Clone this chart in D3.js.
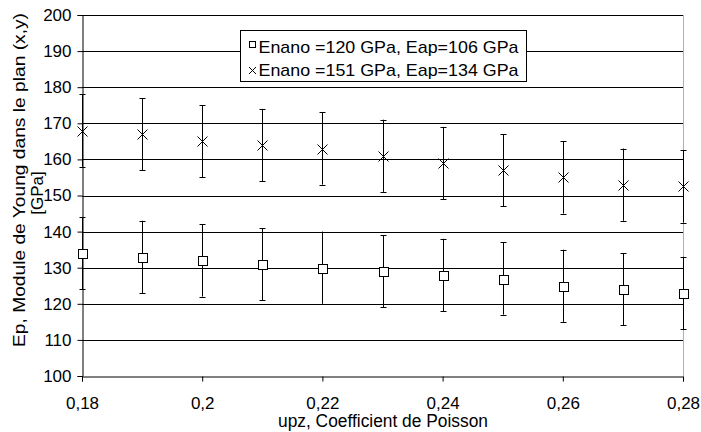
<!DOCTYPE html>
<html>
<head>
<meta charset="utf-8">
<script src="https://cdn.jsdelivr.net/npm/d3@7"></script>
<style>
  body { margin: 0; background: #fff; }
  text { font-family: "Liberation Sans", Arial, sans-serif; fill: #000; }
</style>
</head>
<body>
<svg class="chart" width="701" height="432"></svg>
<script>
const poisson = [0.18, 0.19, 0.20, 0.21, 0.22, 0.23, 0.24, 0.25, 0.26, 0.27, 0.28];
const series120 = [134, 133, 132, 131, 130, 129, 128, 127, 125, 124, 123];
const series151 = [168, 167, 165, 164, 163, 161, 159, 157, 155, 153, 152.5];
const errorBar = 10;
const xTicks = [0.18, 0.20, 0.22, 0.24, 0.26, 0.28];
const yTicks = [100, 110, 120, 130, 140, 150, 160, 170, 180, 190, 200];
const legendLabels = ["Enano =120 GPa, Eap=106 GPa", "Enano =151 GPa, Eap=134 GPa"];

const margin = {top: 15, right: 18, bottom: 56, left: 82};
const width = 701 - margin.left - margin.right;
const height = 432 - margin.top - margin.bottom;

const svg = d3.select(".chart");
const chart = svg.append("g")
    .attr("transform", `translate(${margin.left}, ${margin.top})`);

const x = d3.scaleLinear().domain([0.18, 0.28]).range([0, width]);
const y = d3.scaleLinear().domain([100, 200]).range([height, 0]);

const fmt = (d) => String(+d.toFixed(2)).replace(".", ",");

// grid
chart.selectAll(".grid")
    .data(yTicks.slice(1))
    .enter().append("line")
    .attr("class", "grid")
    .attr("x1", 0).attr("x2", width)
    .attr("y1", (d) => Math.round(y(d)) + 0.5)
    .attr("y2", (d) => Math.round(y(d)) + 0.5)
    .style("stroke", "#000")
    .style("stroke-width", 1);

// right border
chart.append("line")
    .attr("x1", width + 0.5).attr("x2", width + 0.5)
    .attr("y1", 0).attr("y2", height)
    .style("stroke", "#b0b0b0");

// axes
const xAxis = chart.append("g")
    .attr("transform", `translate(0,${height + 0.5})`)
    .call(d3.axisBottom(x).tickValues(xTicks).tickFormat(fmt).tickSize(5).tickPadding(15));
const yAxis = chart.append("g")
    .attr("transform", "translate(0.5,0)")
    .call(d3.axisLeft(y).tickValues(yTicks).tickSize(5).tickPadding(6));
[xAxis, yAxis].forEach((a) => {
    a.select(".domain").style("stroke", "#000");
    a.selectAll(".tick line").style("stroke", "#000");
    a.selectAll("text").style("font-size", "17px").style("font-family", "Liberation Sans, Arial, sans-serif");
});

// axis titles
svg.append("text")
    .attr("x", 383)
    .attr("y", 427)
    .attr("text-anchor", "middle")
    .attr("textLength", 210)
    .attr("lengthAdjust", "spacingAndGlyphs")
    .style("font-size", "18px")
    .text("upz, Coefficient de Poisson");

svg.append("text")
    .attr("transform", "translate(25,180) rotate(-90)")
    .attr("text-anchor", "middle")
    .attr("textLength", 334)
    .attr("lengthAdjust", "spacingAndGlyphs")
    .style("font-size", "17px")
    .text("Ep, Module de Young dans le plan (x,y)");
svg.append("text")
    .attr("transform", "translate(43,193) rotate(-90)")
    .attr("text-anchor", "middle")
    .style("font-size", "17px")
    .text("[GPa]");

// error bars
function drawErrors(values) {
    const g = chart.append("g");
    values.forEach((v, i) => {
        const cx = Math.round(x(poisson[i])) + 0.5;
        const y1 = y(v + errorBar), y2 = y(v - errorBar);
        g.append("line").attr("x1", cx).attr("x2", cx).attr("y1", y1).attr("y2", y2)
            .style("stroke", "#000");
        [y1, y2].forEach((yy) => {
            g.append("line").attr("x1", cx - 3).attr("x2", cx + 3)
                .attr("y1", Math.round(yy) + 0.5).attr("y2", Math.round(yy) + 0.5)
                .style("stroke", "#000");
        });
    });
}
drawErrors(series120);
drawErrors(series151);

// markers
chart.selectAll(".sq")
    .data(series120)
    .enter().append("rect")
    .attr("class", "sq")
    .attr("x", (d, i) => Math.round(x(poisson[i])) - 4 + 0.5)
    .attr("y", (d) => Math.round(y(d)) - 4 + 0.5)
    .attr("width", 9).attr("height", 9)
    .style("fill", "#fff")
    .style("stroke", "#000");

chart.selectAll(".cross")
    .data(series151)
    .enter().append("path")
    .attr("class", "cross")
    .attr("transform", (d, i) => `translate(${Math.round(x(poisson[i])) + 0.5},${Math.round(y(d)) + 0.5})`)
    .attr("d", "M-5,-5L5,5M-5,5L5,-5")
    .style("fill", "none")
    .style("stroke", "#000");

// legend
const legend = svg.append("g").attr("transform", "translate(240.5,30.5)");
legend.append("rect")
    .attr("width", 286).attr("height", 51)
    .style("fill", "#fff")
    .style("stroke", "#000");
legend.append("rect")
    .attr("x", 9).attr("y", 11).attr("width", 6).attr("height", 6)
    .style("fill", "#fff").style("stroke", "#000");
legend.append("path")
    .attr("transform", "translate(12,40)")
    .attr("d", "M-3.5,-3.5L3.5,3.5M-3.5,3.5L3.5,-3.5")
    .style("fill", "none").style("stroke", "#000");
legend.selectAll(".leg-text")
    .data(legendLabels)
    .enter().append("text")
    .attr("class", "leg-text")
    .attr("x", 18)
    .attr("y", (d, i) => 22 + i * 23)
    .attr("textLength", 260)
    .attr("lengthAdjust", "spacingAndGlyphs")
    .style("font-size", "17px")
    .text((d) => d);
</script>
</body>
</html>
